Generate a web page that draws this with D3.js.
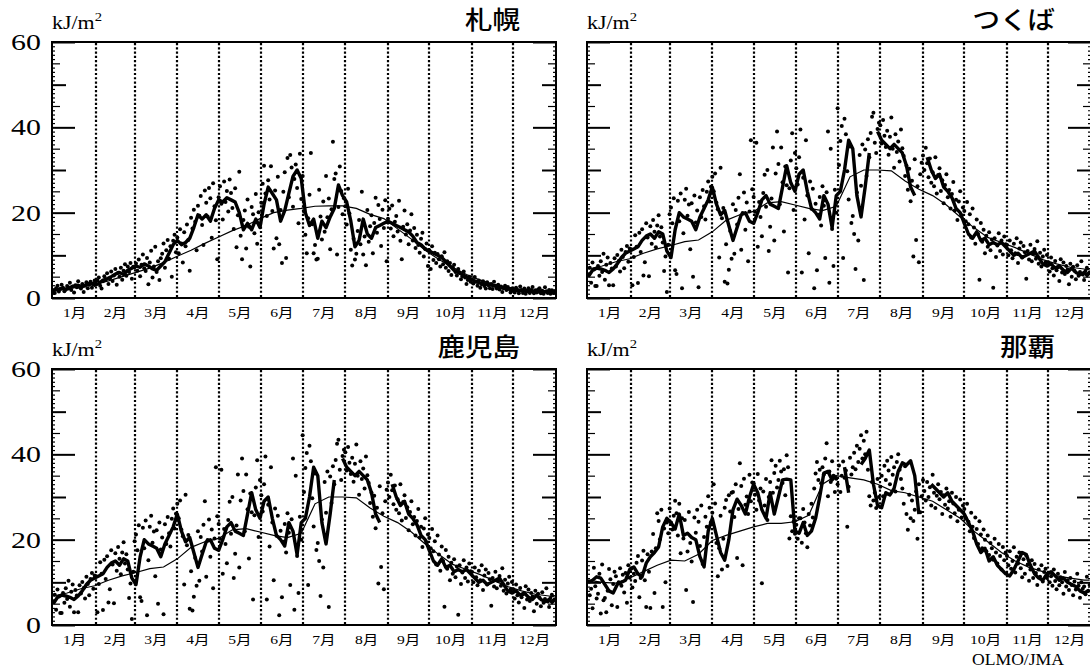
<!DOCTYPE html>
<html>
<head>
<meta charset="utf-8">
<script src="https://cdn.jsdelivr.net/npm/d3@7"></script>
<style>
  body { margin: 0; background: #fff; }
  svg { display: block; }
</style>
</head>
<body>
<script>
// Daily UV-B panels, 4 stations (kJ/m2)

// Month names and where each month starts (day of year)
var months = ["1月", "2月", "3月", "4月", "5月", "6月", "7月", "8月", "9月", "10月", "11月", "12月"];
var monthStarts = [1, 32, 60, 91, 121, 152, 182, 213, 244, 274, 305, 335];
var monthLengths = [31, 28, 31, 30, 31, 30, 31, 31, 30, 31, 30, 31];
var yLabels = [0, 20, 40, 60];

// Thick line: running mean, one value every 3 days starting at day 1
var sapporoMean = [1.8, 2.0, 2.2, 2.0, 2.5, 2.8, 3.0, 2.6, 3.2, 3.5,
  3.0, 3.4, 4.2, 4.5, 5.0, 5.6, 6.0, 5.5, 6.5, 7.0,
  7.5, 7.2, 8.0, 7.5, 6.8, 6.5, 7.5, 8.5, 10.5, 12.5,
  13.5, 12.5, 13.0, 14.0, 16.5, 19.5, 18.5, 19.5, 18.0, 21.0,
  23.0, 22.5, 23.5, 23.0, 22.5, 20.0, 16.0, 17.5, 16.0, 18.5,
  16.5, 22.0, 26.0, 24.5, 23.0, 18.0, 20.5, 24.5, 28.5, 30.0,
  28.0, 20.0, 17.0, 18.5, 14.0, 18.0, 16.5, 19.0, 21.0, 26.5,
  24.0, 22.5, 18.0, 12.0, 13.5, 18.5, 15.0, 14.0, 16.5, 17.0,
  17.5, 18.0, 17.5, 17.0, 16.5, 16.0, 15.5, 14.5, 13.0, 12.5,
  11.5, 11.0, 10.5, 10.0, 9.5, 8.5, 7.5, 6.5, 6.0, 5.5,
  5.0, 4.5, 4.0, 3.6, 3.4, 3.2, 3.0, 2.8, 2.5, 2.4,
  2.2, 2.0, 1.8, 1.7, 1.8, 1.5, 1.6, 1.5, 1.4, 1.5,
  1.3, 1.4];

var tsukubaMean = [5.0, 6.5, 7.0, 6.8, 6.5, 6.0, 6.8, 8.0, 9.5, 10.5,
  11.0, 11.5, 12.0, 13.5, 14.5, 15.0, 14.0, 15.5, 15.0, 11.0,
  9.5, 16.0, 20.0, 19.0, 18.5, 18.0, 16.0, 19.0, 21.0, 23.0,
  26.0, 22.0, 19.5, 20.5, 17.0, 13.5, 16.5, 19.5, 20.0, 18.0,
  17.5, 20.0, 23.0, 24.0, 22.0, 21.5, 21.0, 26.0, 31.0, 27.0,
  25.0, 29.0, 30.0, 25.0, 21.0, 20.0, 18.5, 24.0, 22.0, 16.5,
  24.0, 25.0, 30.0, 37.0, 35.0, 24.0, 19.0, 26.0, 34.0, null,
  39.0, 37.0, 36.0, 35.0, 36.0, 35.0, 34.0, 31.0, 26.0, 24.0,
  null, null, 33.0, 30.0, 28.0, 29.0, 26.0, 25.0, 23.5, 21.0,
  20.0, 17.5, 15.0, 14.0, 15.5, 13.5, 14.0, 12.5, 13.0, 12.5,
  13.0, 12.0, 11.0, 10.0, 10.5, 9.5, 10.0, 10.5, 11.0, 9.5,
  8.0, 7.5, 8.0, 7.0, 7.5, 6.5, 6.0, 7.0, 6.0, 5.5,
  6.0, 5.0];

var nahaMean = [10.0, 10.5, 11.3, 11.0, 9.5, 8.0, 7.5, 9.5, 10.0, 10.5,
  13.0, 13.6, 12.0, 11.3, 14.5, 16.0, 17.0, 18.3, 23.0, 25.0,
  24.0, 22.5, 26.0, 21.0, 21.5, 20.5, 20.0, 16.0, 13.6, 22.0,
  25.0, 21.0, 17.0, 15.2, 20.0, 27.0, 29.5, 28.0, 26.0, 30.0,
  33.0, 31.0, 27.0, 25.0, 31.0, 26.0, 30.0, 34.0, 34.2, 34.0,
  22.0, 21.5, 24.0, 21.0, 22.0, 25.0, 30.0, 35.6, 36.0, 34.0,
  35.0, null, 37.0, 31.0, null, null, 37.6, 39.0, 41.0, 33.0,
  28.0, 27.5, 31.0, 30.5, 32.0, 36.0, 38.0, 37.5, 38.5, 35.0,
  26.0, null, null, 33.0, 32.0, 31.0, 30.0, 31.0, 29.0, 28.0,
  27.0, 26.0, 24.0, 22.0, 19.0, 17.0, 18.0, 15.0, 16.0, 14.0,
  13.0, 12.0, 11.5, 13.0, 15.0, 17.0, 16.5, 14.0, 12.0, 11.0,
  10.5, 12.0, 12.5, 11.5, 10.5, 11.0, 10.0, 9.5, 9.0, 8.0,
  7.5, 8.0];

// Thin line: normal year values
var normalDays = [1, 11, 21, 31, 41, 51, 61, 71, 81, 91, 101, 111, 121, 131, 141, 151, 161, 171, 181,
  191, 201, 211, 221, 231, 241, 251, 261, 271, 281, 291, 301, 311, 321, 331, 341, 351, 361, 365];
var sapporoNormal = [2.0, 2.2, 2.6, 3.2, 4.0, 5.0, 6.0, 7.0, 8.3, 9.8, 11.2, 12.8, 14.3, 15.8, 17.0, 18.6, 20.0, 20.6, 21.0,
  21.5, 21.6, 21.6, 21.0, 19.6, 18.6, 16.2, 13.8, 11.2, 9.0, 7.2, 5.5, 4.2, 3.2, 2.5, 2.0, 1.8, 1.7, 1.7];
var tsukubaNormal = [6.8, 7.5, 8.5, 9.2, 10.5, 11.5, 12.3, 13.2, 13.6, 15.5, 18.2, 19.5, 20.3, 22.3, 22.6, 21.8, 21.0, 20.5, 21.5,
  28.4, 30.0, 30.0, 29.8, 27.4, 25.5, 24.0, 21.8, 19.0, 16.5, 14.2, 13.0, 11.8, 10.4, 9.0, 8.0, 7.2, 6.8, 6.6];
var nahaNormal = [10.5, 10.0, 9.8, 11.0, 12.5, 14.0, 15.2, 15.0, 16.6, 19.8, 21.0, 22.0, 23.0, 23.8, 23.8, 24.2, 25.7, 33.0, 35.0,
  34.5, 34.0, 33.0, 31.5, 31.0, 30.0, 29.0, 27.0, 25.0, 22.0, 19.5, 17.0, 15.0, 13.5, 12.5, 11.5, 11.0, 10.5, 10.5];

// Dots: daily values, one row per month
var sapporoDaily = [
  [1.8,1.2,2.3,2.9,1.5,2.1,3.1,2.4,1.6,2.0,2.8,2.2,3.6,1.9,2.7,1.3,3.0,2.5,3.9,2.6,2.2,3.3,1.4,2.9,3.7,2.3,3.1,3.8,2.4,3.4,4.1],
  [3.2,4.1,4.8,2.9,2.2,3.9,5.1,4.4,5.8,3.3,4.6,6.2,4.0,5.3,6.8,3.1,5.9,5.0,7.1,4.3,6.4,7.9,5.2,7.4,6.1,8.2,4.5,7.3],
  [7.2,8.1,6.4,9.0,5.1,7.8,10.2,7.0,6.3,9.4,3.2,8.3,11.1,4.8,7.4,12.0,6.1,8.6,4.2,9.3,10.4,12.8,7.1,11.2,13.6,9.2,12.1,5.0,13.4,14.8,10.7],
  [14.2,10.5,16.1,12.8,8.3,15.4,12.1,17.2,13.6,6.4,18.8,16.3,20.7,17.9,11.2,21.6,19.3,23.9,17.1,12.4,25.2,22.3,19.1,25.8,23.4,14.1,26.9,21.5,18.2,9.1],
  [23.6,26.2,22.1,18.4,27.3,22.5,25.1,20.3,27.8,24.6,21.1,16.2,25.7,11.9,19.4,29.6,14.6,9.1,18.3,20.5,11.6,23.1,16.7,7.4,21.3,19.6,15.2,24.4,12.7,20.1,17.4],
  [22.3,26.8,31.0,24.5,19.2,27.6,23.1,30.9,20.4,11.6,25.2,14.0,28.4,12.6,20.6,8.2,24.9,29.5,9.4,32.8,23.6,33.5,30.6,21.4,27.9,31.3,25.8,17.5,33.8,23.2],
  [28.6,20.3,14.8,10.5,18.7,24.2,34.0,17.3,10.5,12.4,9.0,9.2,25.4,19.1,13.7,22.6,15.5,28.6,18.9,23.3,11.4,20.8,36.6,27.9,29.2,10.2,21.3,30.8,25.1,19.6,23.4],
  [21.5,17.2,25.6,19.8,11.3,7.6,13.9,9.0,10.4,15.7,18.3,12.6,24.9,10.2,14.4,7.7,20.6,13.2,16.8,19.4,10.5,17.6,23.5,15.3,21.8,18.5,12.2,20.7,16.4,22.9,8.6],
  [18.6,20.9,16.3,21.7,14.5,17.9,19.2,15.6,22.8,13.4,9.1,16.7,20.5,14.9,17.3,12.6,15.8,19.6,13.5,16.4,11.7,14.8,12.4,10.6,13.9,15.3,9.7,11.5,12.8,7.5],
  [11.2,6.8,12.1,8.9,10.6,8.2,10.3,9.1,7.4,9.8,7.9,10.7,7.1,8.6,6.3,8.2,5.4,7.2,7.8,6.1,5.3,6.8,5.9,4.4,5.1,6.2,4.8,3.3,4.2,5.0,3.8],
  [4.3,3.4,4.9,3.8,2.9,4.1,2.4,3.2,3.9,2.8,2.2,3.7,3.0,2.3,3.3,2.1,3.8,2.9,2.2,3.1,2.0,2.7,1.4,2.3,2.9,1.9,2.6,2.1,1.3,2.2],
  [2.1,1.3,2.4,1.8,1.1,2.7,1.9,1.2,2.2,1.0,1.7,2.3,1.2,1.9,2.6,1.1,1.8,1.3,2.0,2.3,1.1,1.7,1.0,2.5,1.6,1.2,1.9,1.0,1.8,1.2,1.6]
];

var tsukubaDaily = [
  [5.4,7.1,3.6,8.3,6.7,2.8,2.8,7.5,5.2,8.6,6.1,10.4,4.3,7.8,9.5,3.0,8.2,6.9,3.0,9.3,7.4,10.1,8.7,6.2,11.3,9.6,7.0,10.8,12.2,8.5,11.6],
  [11.4,3.0,9.6,14.7,12.0,3.5,15.3,10.8,16.1,5.3,8.4,17.5,14.2,5.1,16.8,12.7,18.3,15.5,11.9,17.0,19.4,14.4,16.6,13.0,6.3,9.7,1.4,12.5],
  [19.6,21.2,17.5,23.4,6.5,5.6,22.8,18.0,24.5,2.3,15.2,23.0,25.6,19.3,21.9,11.4,22.2,5.0,24.0,17.7,20.5,2.5,23.6,19.0,25.3,21.5,18.4,24.9,27.3,22.6,26.1],
  [28.4,25.0,29.2,22.3,20.8,9.5,30.5,18.7,21.1,3.8,12.6,3.4,6.6,15.7,9.2,22.0,10.4,20.6,17.2,23.5,29.0,11.3,19.9,24.7,16.0,22.4,8.6,20.3,37.0,25.5],
  [23.7,20.2,36.4,12.0,22.5,19.0,14.5,24.6,28.9,21.4,30.0,11.0,16.7,23.3,35.3,13.5,29.2,39.0,31.4,22.0,35.3,27.1,15.6,30.8,26.4,6.0,25.7,32.2,38.6,20.6,34.0],
  [30.4,26.6,33.0,39.5,6.0,28.2,18.4,37.0,24.0,10.5,27.3,20.9,25.6,2.3,22.1,6.5,19.5,23.7,17.0,26.2,21.6,9.4,24.8,39.0,3.6,35.0,16.2,7.5,25.4,20.0],
  [44.5,31.2,36.8,40.3,9.4,42.0,38.4,29.7,23.1,35.5,17.6,19.2,15.0,6.8,24.7,13.5,33.5,26.3,36.0,4.2,34.8,28.6,37.2,33.0,38.7,42.5,43.4,36.4,34.0,39.6,41.1],
  [40.5,36.2,41.7,38.0,35.4,39.2,33.6,37.8,42.3,35.0,30.5,38.4,34.2,36.7,32.0,39.5,35.1,33.3,28.6,31.0,25.4,30.3,22.7,27.5,9.7,32.5,13.6,26.2,8.4,29.0,31.7],
  [33.4,30.0,35.2,31.6,28.3,32.7,27.0,29.5,26.2,33.0,24.5,28.8,30.4,25.1,27.6,22.2,26.5,29.0,23.6,25.3,21.0,24.4,27.2,20.5,23.0,18.3,22.6,25.0,19.4,21.2],
  [20.4,18.0,22.5,17.3,19.6,14.2,21.0,16.5,12.7,18.4,15.0,4.3,17.6,13.2,16.0,10.5,14.6,12.0,15.4,11.2,13.7,2.4,14.0,9.6,12.3,15.2,11.0,13.5,10.2,14.4,12.6],
  [12.4,10.0,13.5,11.2,9.3,12.7,10.5,14.0,8.2,11.6,13.0,9.5,12.2,10.7,4.5,11.0,9.0,12.5,8.6,10.3,11.5,9.2,13.3,8.0,10.6,7.4,9.7,11.3,8.3,10.1],
  [8.4,6.2,9.5,7.0,5.3,8.7,6.5,7.2,4.0,9.1,6.0,8.3,5.6,7.5,6.7,3.2,8.0,5.0,7.3,6.4,4.4,7.7,5.2,6.1,8.6,5.5,4.2,6.3,7.1,5.7,6.0]
];

var nahaDaily = [
  [10.2,7.0,8.5,3.9,13.4,9.1,6.2,7.3,12.0,2.7,14.2,5.8,6.3,3.0,8.0,13.1,10.7,4.6,9.6,12.5,11.4,4.2,10.0,13.3,9.2,11.8,7.6,12.2,5.2,14.0,11.1],
  [13.2,8.8,12.0,10.3,14.6,16.2,6.5,11.0,15.1,17.4,10.5,4.2,16.6,12.5,4.0,17.2,21.3,7.5,18.0,26.2,24.4,20.1,27.0,4.2,22.6,10.0,24.0,21.5],
  [27.3,24.0,22.4,25.6,29.1,26.2,21.0,28.4,16.8,25.0,20.3,24.6,8.2,17.2,26.5,19.2,14.9,5.4,25.2,21.6,27.0,24.2,18.5,28.0,14.3,20.6,25.4,23.0,30.2,27.5,24.1],
  [26.3,33.0,28.5,19.2,11.4,18.0,25.6,13.0,20.2,27.5,29.3,13.8,30.4,26.6,31.0,31.2,25.3,33.0,15.7,27.2,37.9,32.6,14.0,34.3,28.2,30.1,26.0,35.2,29.0,33.4],
  [33.2,30.5,27.0,35.4,29.2,32.0,9.8,31.3,28.0,34.2,24.6,30.0,33.5,38.6,31.0,35.6,37.3,32.2,34.0,38.5,36.0,33.3,36.5,30.4,39.8,37.0,20.3,25.5,22.0,24.2,21.4],
  [23.5,20.2,25.0,25.0,19.3,27.2,24.0,21.5,18.2,26.0,23.3,28.4,25.2,32.0,35.5,38.2,34.0,36.4,33.2,37.0,35.3,39.0,42.6,30.2,36.0,33.5,38.4,35.0,31.2,34.3],
  [33.0,37.4,31.2,35.0,38.3,34.5,36.2,23.0,32.4,39.2,35.3,37.0,40.4,36.5,42.0,38.2,41.3,44.5,39.0,43.2,40.0,45.3,36.4,30.2,28.0,33.5,29.2,31.0,27.4,34.2,30.0],
  [32.4,35.0,30.2,37.3,34.0,38.5,36.2,33.0,39.4,35.2,37.0,31.3,38.2,40.0,36.4,34.2,32.0,28.4,37.2,26.0,22.3,30.5,25.0,29.2,24.4,27.0,31.3,20.2,33.0,26.4,30.2],
  [34.0,31.4,29.2,33.5,30.0,32.3,28.0,35.2,31.0,27.4,30.3,33.0,29.5,31.2,26.0,30.4,28.2,32.0,27.3,29.0,25.4,31.0,28.5,26.2,30.0,24.3,27.0,29.4,25.2,28.0],
  [27.2,25.0,28.4,24.2,22.0,26.3,23.0,20.4,25.2,22.5,19.0,24.3,21.2,18.0,22.4,20.0,17.3,21.0,16.4,19.2,18.0,15.3,20.2,17.0,14.4,19.0,16.2,13.0,18.3,15.2,17.0],
  [16.2,14.0,17.3,13.2,15.0,18.2,12.3,16.0,14.4,17.0,13.3,11.2,15.4,12.0,16.3,14.2,10.4,13.0,15.2,11.0,14.3,12.2,9.4,13.0,11.3,14.0,10.2,12.4,13.2,11.0],
  [12.2,10.0,11.4,9.2,13.0,10.3,8.4,12.0,9.3,11.2,10.0,7.3,12.4,9.0,10.5,8.2,11.0,9.4,7.0,10.2,8.3,12.0,9.2,6.4,10.0,8.5,9.0,7.2,11.3,8.0,9.4]
];

// The 鹿児島 panel of the source figure repeats the つくば curves
var kagoshimaMean = tsukubaMean;
var kagoshimaNormal = tsukubaNormal;
var kagoshimaDaily = tsukubaDaily;

// Sizes
var width = 1090, height = 668;
var panelW = 504, panelH = 256;
var serif = "'Liberation Serif', 'Noto Sans CJK JP', serif";

var panels = [
  {name: "札幌", left: 52, top: 42, mean: sapporoMean, normal: sapporoNormal, daily: sapporoDaily, labels: true},
  {name: "つくば", left: 587, top: 42, mean: tsukubaMean, normal: tsukubaNormal, daily: tsukubaDaily, labels: false},
  {name: "鹿児島", left: 52, top: 369, mean: kagoshimaMean, normal: kagoshimaNormal, daily: kagoshimaDaily, labels: true},
  {name: "那覇", left: 587, top: 369, mean: nahaMean, normal: nahaNormal, daily: nahaDaily, labels: false}
];

var svg = d3.select("body")
  .append("svg")
  .attr("width", width)
  .attr("height", height);

var xScale = d3.scaleLinear().domain([0, 366]).range([0, panelW]);
var yScale = d3.scaleLinear().domain([0, 60]).range([panelH, 0]);

panels.forEach(drawPanel);

// credit bottom right
stretchText(svg, 1018, 665, "OLMO/JMA", 1.1)
  .attr("text-anchor", "middle")
  .style("font-family", serif)
  .style("font-size", "16px");

// text squeezed/stretched horizontally like the source figure
function stretchText(sel, x, y, str, sx) {
  return sel.append("text")
    .attr("transform", `translate(${x},${y}) scale(${sx},1)`)
    .text(str);
}

// tick length depends on the value
function tickLen(v) {
  if (v % 20 == 0) return 23;
  if (v % 10 == 0) return 14;
  if (v % 5 == 0) return 8;
  return 3;
}

function drawPanel(p) {
  var g = svg.append("g")
    .attr("transform", `translate(${p.left},${p.top})`);

  // dotted month boundaries
  g.selectAll(".month-line")
    .data(monthStarts.slice(1))
    .enter()
    .append("line")
    .attr("class", "month-line")
    .attr("x1", d => Math.round(xScale(d)))
    .attr("x2", d => Math.round(xScale(d)))
    .attr("y1", 1)
    .attr("y2", panelH)
    .attr("stroke", "#000")
    .attr("stroke-width", 2.2)
    .attr("stroke-dasharray", "2.2,2.07");

  // normal year (thin)
  var normalPts = p.normal.map((v, i) => ({day: normalDays[i], v: v}));
  var line = d3.line()
    .defined(d => d.v != null)
    .x(d => xScale(d.day))
    .y(d => yScale(d.v));

  g.append("path")
    .datum(normalPts)
    .attr("d", line)
    .attr("fill", "none")
    .attr("stroke", "#000")
    .attr("stroke-width", 1.2);

  // daily dots
  var dots = [];
  p.daily.forEach(function(row, m) {
    row.forEach(function(v, i) {
      dots.push({day: monthStarts[m] + i * monthLengths[m] / row.length, v: v});
    });
  });
  g.selectAll(".dot")
    .data(dots)
    .enter()
    .append("circle")
    .attr("class", "dot")
    .attr("cx", d => xScale(d.day))
    .attr("cy", d => yScale(d.v))
    .attr("r", 2.0)
    .attr("fill", "#000");

  // running mean (thick)
  var meanPts = p.mean.map((v, i) => ({day: 1 + i * 3, v: v}));
  g.append("path")
    .datum(meanPts)
    .attr("d", line)
    .attr("fill", "none")
    .attr("stroke", "#000")
    .attr("stroke-width", 3.4)
    .attr("stroke-linejoin", "round");

  // frame
  g.append("rect")
    .attr("width", panelW)
    .attr("height", panelH)
    .attr("fill", "none")
    .attr("stroke", "#000")
    .attr("stroke-width", 2);

  // ticks on both sides, pointing inwards
  var leftAxis = d3.axisRight(yScale)
    .tickValues(d3.range(0, 61))
    .tickSizeOuter(0)
    .tickFormat("");
  var la = g.append("g").call(leftAxis);
  la.select(".domain").remove();
  la.selectAll(".tick line")
    .attr("x2", d => tickLen(d))
    .attr("stroke-width", d => d % 10 == 0 ? 2 : 1.2);

  var rightAxis = d3.axisLeft(yScale)
    .tickValues(d3.range(0, 61))
    .tickSizeOuter(0)
    .tickFormat("");
  var ra = g.append("g")
    .attr("transform", `translate(${panelW},0)`)
    .call(rightAxis);
  ra.select(".domain").remove();
  ra.selectAll(".tick line")
    .attr("x2", d => -tickLen(d))
    .attr("stroke-width", d => d % 10 == 0 ? 2 : 1.2);

  // month labels
  months.forEach(function(m, i) {
    stretchText(g, xScale(monthStarts[i] + monthLengths[i] / 2), panelH + 19, m, 1.2)
      .attr("text-anchor", "middle")
      .style("font-family", serif)
      .style("font-size", "13px");
  });

  // y labels only on left column
  if (p.labels) {
    yLabels.forEach(function(v) {
      stretchText(g, -11, yScale(v) + 8, v, 1.3)
        .attr("text-anchor", "end")
        .style("font-family", serif)
        .style("font-size", "23px");
    });
  }

  // unit
  var unit = g.append("text")
    .attr("transform", `translate(0,-13) scale(1.22,1)`)
    .style("font-family", serif)
    .style("font-size", "18px");
  unit.append("tspan").text("kJ/m");
  unit.append("tspan")
    .attr("dy", -8)
    .style("font-size", "12px")
    .text("2");

  // station name
  stretchText(g, panelW - 36, -13, p.name, 1.1)
    .attr("text-anchor", "end")
    .style("font-family", "'Noto Sans CJK JP', sans-serif")
    .style("font-weight", 500)
    .style("font-size", "25px");
}
</script>
</body>
</html>
